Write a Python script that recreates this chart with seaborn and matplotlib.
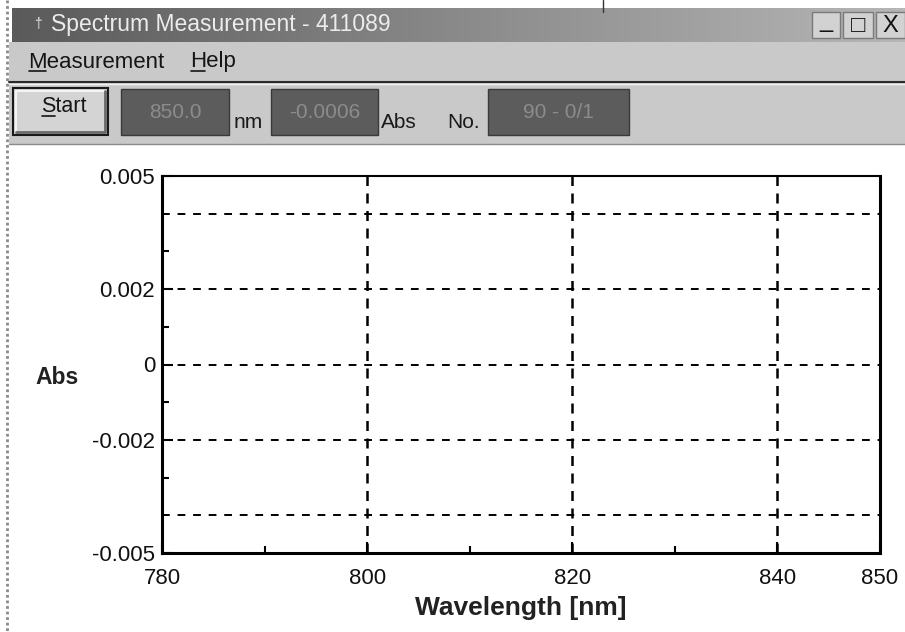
import numpy as np
import pandas as pd
import matplotlib
matplotlib.use("Agg")
import matplotlib.pyplot as plt
import seaborn as sns
from matplotlib.patches import Rectangle
from matplotlib.lines import Line2D

# Spectrum buffer (empty: no scan recorded yet)
wavelength = []
absorbance = []

# Axis layout
x_ticks = [780, 800, 820, 840, 850]
x_tick_labels = ["780", "800", "820", "840", "850"]
x_minor = [790, 810, 830]
x_grid = [800, 820, 840]
y_ticks = [0.005, 0.002, 0, -0.002, -0.005]
y_tick_labels = ["0.005", "0.002", "0", "-0.002", "-0.005"]
y_minor = [0.003, 0.001, -0.001, -0.003]
y_grid = [0.004, 0.002, 0, -0.002, -0.004]

# Window texts
window_title = "Spectrum Measurement - 411089"
menu_items = ["Measurement", "Help"]
readout_values = ["850.0", "-0.0006", "90 - 0/1"]
readout_units = ["nm", "Abs", "No."]

sns.set_theme(style="white")
plt.rcParams["font.family"] = ["Liberation Sans", "DejaVu Sans"]

W, H = 905, 632
fig = plt.figure(figsize=(W / 100, H / 100), dpi=100)
fig.patch.set_facecolor("white")

# ---- window chrome, drawn in pixel coordinates ----
ch = fig.add_axes([0, 0, 1, 1])
ch.set_xlim(0, W)
ch.set_ylim(H, 0)
ch.axis("off")


def underline_first(txt, color="#151515"):
    """Underline the access-key letter (first character) of a text."""
    renderer = fig.canvas.get_renderer()
    probe = ch.text(*txt.get_position(), txt.get_text()[0],
                    fontsize=txt.get_fontsize(), ha=txt.get_ha(), va=txt.get_va())
    bb_full = txt.get_window_extent(renderer)
    bb_one = probe.get_window_extent(renderer)
    probe.remove()
    x0 = bb_full.x0
    x1 = bb_full.x0 + bb_one.width
    y = H - bb_full.y0 - 2
    ch.add_line(Line2D([x0 + 1, x1 - 1], [y, y], color=color, lw=1.2, zorder=5))


# left window border (dotted)
ch.add_line(Line2D([7, 7], [0, H], color="#8a8a8a", lw=2, ls=(0, (1, 1))))
# stray mark in the top margin
ch.add_line(Line2D([603, 603], [0, 12], color="#333333", lw=1))

# title bar gradient
grad = np.linspace(0, 1, 256).reshape(1, -1)
ch.imshow(grad, extent=[12, W, 42, 8], aspect="auto",
          cmap=matplotlib.colors.LinearSegmentedColormap.from_list(
              "tb", ["#5a5a5a", "#8a8a8a", "#b6b6b6"]), zorder=1)
ch.text(34, 24, "\u2020", color="#e8e8e8", fontsize=10, va="center", zorder=2)
ch.text(51, 24, window_title, color="#ececec", fontsize=16.5,
        va="center", ha="left", zorder=2)

# title bar buttons
for x0, w, glyph in [(812, 28, "_"), (843, 30, "\u25a1"), (876, 29, "X")]:
    ch.add_patch(Rectangle((x0, 12), w, 26, facecolor="#d2d2d2",
                           edgecolor="#7a7a7a", lw=1, zorder=2))
    ch.text(x0 + w / 2, 26 if glyph != "_" else 21, glyph, fontsize=17,
            ha="center", va="center", color="#111111", zorder=3)

# menu bar and toolbar
ch.add_patch(Rectangle((9, 42), W - 9, 102, facecolor="#c9c9c9",
                       edgecolor="none", zorder=1))
ch.add_line(Line2D([9, W], [82, 82], color="#2a2a2a", lw=1.5, zorder=2))
ch.add_line(Line2D([9, W], [84, 84], color="#f2f2f2", lw=1, zorder=2))
ch.add_line(Line2D([9, W], [144, 144], color="#8a8a8a", lw=1, zorder=2))

fig.canvas.draw()
m1 = ch.text(28, 62, menu_items[0], fontsize=16, va="center", color="#151515", zorder=2)
m2 = ch.text(190, 62, menu_items[1], fontsize=16, va="center", color="#151515", zorder=2)
underline_first(m1)
underline_first(m2)

# Start button
ch.add_patch(Rectangle((13, 88), 95, 47, facecolor="#d4d4d4",
                       edgecolor="#1a1a1a", lw=1.5, zorder=2))
ch.add_line(Line2D([16, 16, 104], [132, 91, 91], color="#f5f5f5", lw=1.5, zorder=3))
ch.add_line(Line2D([16, 105, 105], [132, 132, 91], color="#6a6a6a", lw=2, zorder=3))
st = ch.text(64, 107, "Start", fontsize=15.5, ha="center", va="center",
             color="#151515", zorder=4)
underline_first(st)

# readout fields
boxes = [(121, 229), (271, 378), (488, 629)]
unit_x = [234, 381, 447]
for (x0, x1), val, ux, unit in zip(boxes, readout_values, unit_x, readout_units):
    ch.add_patch(Rectangle((x0, 89), x1 - x0, 46, facecolor="#5c5c5c",
                           edgecolor="#3a3a3a", lw=1, zorder=2))
    ch.text((x0 + x1) / 2, 112, val, fontsize=15, ha="center", va="center",
            color="#8c8c8c", zorder=3)
    ch.text(ux, 122, unit, fontsize=15, ha="left", va="center",
            color="#1a1a1a", zorder=3)

# ---- spectrum plot ----
left, right, top, bottom = 162, 880, 176, 553
ax = fig.add_axes([left / W, (H - bottom) / H, (right - left) / W, (bottom - top) / H])
ax.set_facecolor("white")

spec = pd.DataFrame({"Wavelength [nm]": pd.Series(wavelength, dtype=float),
                     "Abs": pd.Series(absorbance, dtype=float)})
sns.lineplot(data=spec, x="Wavelength [nm]", y="Abs", ax=ax, color="black")

ax.set_xlim(780, 850)
ax.set_ylim(-0.005, 0.005)

for gx in x_grid:
    ax.axvline(gx, color="black", lw=1.8, ls=(0, (4, 3)), zorder=1)
for gy in y_grid:
    ax.axhline(gy, color="black", lw=1.4, ls=(0, (4, 4)), zorder=1)

ax.set_xticks(x_ticks, x_tick_labels)
ax.set_xticks(x_minor, minor=True)
ax.set_yticks(y_ticks, y_tick_labels)
ax.set_yticks(y_minor, minor=True)
ax.tick_params(axis="both", which="major", direction="in", length=8, width=1.5,
               colors="black", labelsize=16, labelcolor="#111111")
ax.tick_params(axis="both", which="minor", direction="in", length=5, width=1.5,
               colors="black")
ax.tick_params(axis="x", which="major", pad=11)
ax.tick_params(axis="y", which="major", pad=5)
ax.tick_params(left=True, bottom=True, which="both")

for side, sp in ax.spines.items():
    sp.set_visible(True)
    sp.set_color("black")
    sp.set_linewidth(1.5 if side == "top" else 2.2)

ax.set_xlabel("Wavelength [nm]", fontsize=19, fontweight="bold",
              color="#222222", labelpad=5)
ax.set_ylabel("Abs", fontsize=16.5, fontweight="bold", color="#222222",
              rotation=0, ha="center", va="center")
ax.yaxis.set_label_coords((57 - left) / (right - left), (bottom - 377) / (bottom - top))

fig.savefig("out.png", dpi=100, facecolor="white")
